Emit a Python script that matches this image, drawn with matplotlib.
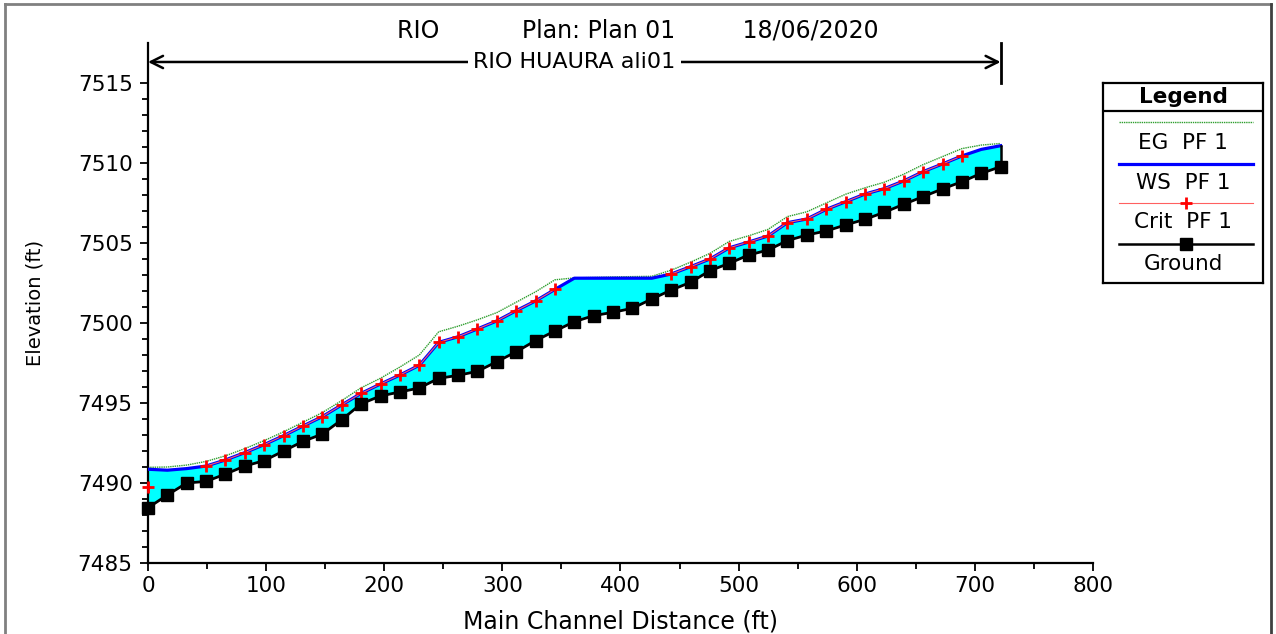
import numpy as np
import matplotlib
matplotlib.use("Agg")
import matplotlib.pyplot as plt
from matplotlib.lines import Line2D
from matplotlib.transforms import blended_transform_factory

plt.rcParams['font.family'] = ['DejaVu Sans']

# profil en long du tronçon (stations tous les 5 m environ)
distance = [0.0, 16.4, 32.8, 49.2, 65.6, 82.0, 98.4, 114.8, 131.2, 147.6,
            164.0, 180.4, 196.9, 213.3, 229.7, 246.1, 262.5, 278.9, 295.3, 311.7,
            328.1, 344.5, 360.9, 377.3, 393.7, 410.1, 426.5, 442.9, 459.3, 475.7,
            492.1, 508.5, 524.9, 541.3, 557.7, 574.1, 590.6, 607.0, 623.4, 639.8,
            656.2, 672.6, 689.0, 705.4, 721.8]

ground = [7488.45, 7489.25, 7490.00, 7490.10, 7490.56, 7491.06, 7491.40, 7492.00, 7492.60, 7493.06,
          7493.95, 7494.95, 7495.44, 7495.69, 7495.94, 7496.54, 7496.73, 7496.98, 7497.58, 7498.20,
          7498.90, 7499.50, 7500.08, 7500.46, 7500.67, 7500.92, 7501.50, 7502.06, 7502.54, 7503.27,
          7503.73, 7504.25, 7504.56, 7505.15, 7505.50, 7505.75, 7506.13, 7506.48, 7506.92, 7507.42,
          7507.90, 7508.38, 7508.83, 7509.35, 7509.77]

ws = [7490.86, 7490.80, 7490.90, 7491.06, 7491.44, 7491.90, 7492.40, 7492.96, 7493.56, 7494.15,
      7494.88, 7495.60, 7496.19, 7496.75, 7497.36, 7498.79, 7499.14, 7499.63, 7500.13, 7500.77,
      7501.38, 7502.10, 7502.80, 7502.80, 7502.80, 7502.80, 7502.80, 7503.06, 7503.52, 7504.00,
      7504.70, 7505.06, 7505.44, 7506.27, 7506.50, 7507.10, 7507.58, 7508.06, 7508.40, 7508.88,
      7509.46, 7509.94, 7510.44, 7510.85, 7511.08]

eg = [7490.98, 7491.00, 7491.12, 7491.35, 7491.70, 7492.15, 7492.65, 7493.20, 7493.80, 7494.40,
      7495.15, 7495.95, 7496.55, 7497.25, 7498.00, 7499.45, 7499.80, 7500.20, 7500.65, 7501.30,
      7501.95, 7502.70, 7502.82, 7502.85, 7502.88, 7502.90, 7502.92, 7503.30, 7503.80, 7504.35,
      7505.10, 7505.45, 7505.85, 7506.65, 7506.95, 7507.50, 7508.05, 7508.45, 7508.80, 7509.30,
      7509.90, 7510.40, 7510.90, 7511.12, 7511.22]

nan = np.nan
crit = [7489.75, nan, nan, 7491.06, 7491.44, 7491.90, 7492.40, 7492.96, 7493.56, 7494.15,
        7494.88, 7495.60, 7496.19, 7496.75, 7497.36, 7498.79, 7499.14, 7499.63, 7500.13, 7500.77,
        7501.38, 7502.10, nan, nan, nan, nan, nan, 7503.06, 7503.52, 7504.00,
        7504.70, 7505.06, 7505.44, 7506.27, 7506.50, 7507.10, 7507.58, 7508.06, 7508.40, 7508.88,
        7509.46, 7509.94, 7510.44, nan, nan]

titre = "RIO           Plan: Plan 01         18/06/2020"
bief = "RIO HUAURA ali01"
legende = ["EG  PF 1", "WS  PF 1", "Crit  PF 1", "Ground"]

W, H = 1276, 634
fig = plt.figure(figsize=(W / 100, H / 100), dpi=100)
ax = fig.add_axes([148 / W, 1 - 563 / H, (1093 - 148) / W, (563 - 43) / H])

# eau entre le fond et la ligne d'eau
ax.fill_between(distance, ground, ws, color="#00FFFF", lw=0, zorder=1)
ax.plot(distance, eg, color="#2E9E2E", lw=1.0, ls=(0, (1, 0.6)), zorder=2)
ax.plot(distance, ws, color="#0000FF", lw=2.3, zorder=3)
ax.plot(distance, crit, color="#FF6060", lw=0.8, zorder=4)
ax.plot(distance, crit, ls="none", marker="+", ms=8, mew=2.0, color="#FF0000", zorder=5, clip_on=False)
ax.plot([distance[-1], distance[-1]], [ground[-1], ws[-1]], color="black", lw=1.8, zorder=4)
ax.plot(distance, ground, color="black", lw=2.0, marker="s", ms=8.5, zorder=6, clip_on=False)

ax.set_xlim(0, 800)
ax.set_ylim(7485, 7517.5)
ax.set_xticks(np.arange(0, 801, 100))
ax.set_xticks(np.arange(0, 801, 50), minor=True)
ax.set_yticks(np.arange(7485, 7516, 5))
ax.set_yticks(np.arange(7485, 7516, 1), minor=True)
ax.tick_params(which="both", direction="out", width=1.3, labelsize=15.5)
ax.tick_params(which="major", length=6)
ax.tick_params(which="minor", length=4)
ax.tick_params(axis="y", pad=5)
ax.tick_params(axis="x", pad=3)
for s in ["top", "right"]:
    ax.spines[s].set_visible(False)
for s in ["left", "bottom"]:
    ax.spines[s].set_linewidth(1.6)
ax.set_xlabel("Main Channel Distance (ft)", fontsize=17, labelpad=10)
ax.set_ylabel("Elevation (ft)", fontsize=14, labelpad=24)

# fleche du bief au-dessus du profil
tr = blended_transform_factory(ax.transData, ax.transAxes)
ax.annotate("", xy=(0, 0.9635), xytext=(distance[-1], 0.9635), xycoords=tr, textcoords=tr,
            arrowprops=dict(arrowstyle="<->", color="black", lw=1.8, shrinkA=0, shrinkB=0,
                            mutation_scale=22), annotation_clip=False)
ax.plot([distance[-1], distance[-1]], [0.923, 1.0], color="black", lw=2, transform=tr, clip_on=False)
ax.text(distance[-1] / 2, 0.9635, bief, transform=tr, ha="center", va="center", fontsize=16,
        bbox=dict(facecolor="white", edgecolor="none", pad=4))

fig.text(0.5, 1 - 30 / H, titre, ha="center", va="center", fontsize=17)

# cadre de la fenetre
fig.add_artist(Line2D([5 / W, 1271 / W], [1 - 4 / H, 1 - 4 / H], color="#808080", lw=2))
fig.add_artist(Line2D([5 / W, 5 / W], [0, 1 - 4 / H], color="#808080", lw=2))
fig.add_artist(Line2D([1271 / W, 1271 / W], [0, 1 - 4 / H], color="#404040", lw=2))

# legende dessinee a la main
lg = fig.add_axes([1103 / W, 1 - 283 / H, 160 / W, 200 / H])
lg.set_xlim(0, 1)
lg.set_ylim(0, 1)
lg.set_xticks([])
lg.set_yticks([])
for s in lg.spines.values():
    s.set_linewidth(1.6)
lg.text(0.5, 0.93, "Legend", ha="center", va="center", fontsize=15.5, fontweight="bold")
lg.plot([0, 1], [0.86, 0.86], color="black", lw=1.6)
lg.plot([0.1, 0.94], [0.805, 0.805], color="#2E9E2E", lw=1.0, ls=(0, (1, 0.6)))
lg.plot([0.1, 0.94], [0.595, 0.595], color="#0000FF", lw=2.3)
lg.plot([0.1, 0.94], [0.40, 0.40], color="#FF6060", lw=0.8)
lg.plot([0.52], [0.40], ls="none", marker="+", ms=8, mew=2.0, color="#FF0000")
lg.plot([0.1, 0.94], [0.195, 0.195], color="black", lw=1.8)
lg.plot([0.52], [0.195], ls="none", marker="s", ms=8, color="black")
for yy, lab in zip([0.70, 0.50, 0.305, 0.095], legende):
    lg.text(0.5, yy, lab, ha="center", va="center", fontsize=15.5)

fig.savefig("out.png", dpi=100)
